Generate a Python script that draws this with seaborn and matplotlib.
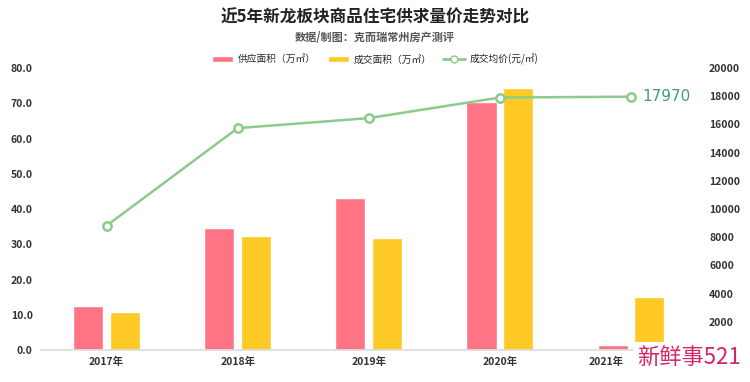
import pandas as pd
import seaborn as sns
import matplotlib.pyplot as plt
import matplotlib.transforms as mtransforms
from matplotlib.patches import Patch
from matplotlib.lines import Line2D

years = ['2017年', '2018年', '2019年', '2020年', '2021年']
supply = [12.5, 34.7, 43.2, 70.5, 1.4]
deal = [10.8, 32.3, 31.8, 74.3, 14.9]
price = [8820, 15740, 16450, 17910, 17970]
series_names = ['供应面积（万㎡）', '成交面积（万㎡）', '成交均价(元/㎡)']

RED = '#FF7484'
YELLOW = '#FFC926'
GREEN = '#8CCB8C'
LABEL_GREEN = '#3F9E70'

sns.set_theme(style='white')
plt.rcParams['font.family'] = ['Noto Sans CJK SC', 'DejaVu Sans']

df = pd.DataFrame({'year': years * 2,
                   'area': supply + deal,
                   'type': [series_names[0]] * len(years) + [series_names[1]] * len(years)})

fig = plt.figure(figsize=(7.5, 3.82), dpi=100)
ax = fig.add_axes([0.0547, 0.0838, 0.874, 0.738])
sns.barplot(data=df, x='year', y='area', hue='type', palette=[RED, YELLOW],
            width=0.56, gap=0.18, saturation=1, legend=False, ax=ax)

ax2 = ax.twinx()
sns.pointplot(x=years, y=price, ax=ax2, color=GREEN, markers='o',
              markersize=6, markerfacecolor='white', markeredgecolor=GREEN,
              markeredgewidth=1.8, linewidth=1.8)
ax2.annotate(f'{price[-1]}', (len(years) - 1, price[-1]), xytext=(8, 0),
             textcoords='offset points', va='center', ha='left',
             fontsize=11, color=LABEL_GREEN, family=['DejaVu Sans'])

ax.set_ylim(0, 80)
ax.set_yticks(range(0, 81, 10))
ax.set_yticklabels([f'{v:.1f}' for v in range(0, 81, 10)])
ax2.set_ylim(0, 20000)
ax2.set_yticks(range(2000, 20001, 2000))
ax.set_xlim(-0.5, len(years) - 0.5)
ax.set_xlabel('')
ax.set_ylabel('')
ax2.set_ylabel('')

for a in (ax, ax2):
    for s in a.spines.values():
        s.set_visible(False)
    a.tick_params(length=0, labelsize=7.5, labelcolor='#333333')
ax.spines['bottom'].set_visible(True)
ax.spines['bottom'].set_color('#dddddd')
ax.tick_params(axis='y', pad=6)
ax.tick_params(axis='x', pad=5)
ax2.tick_params(axis='y', pad=9)
for lbl in ax.get_xticklabels() + ax.get_yticklabels() + ax2.get_yticklabels():
    lbl.set_fontweight('bold')

# last year label sits left of its bars, clear of the corner stamp
last = ax.get_xticklabels()[-1]
last.set_transform(last.get_transform() +
                   mtransforms.ScaledTranslation(-0.25, 0, fig.dpi_scale_trans))

fig.text(0.5, 0.955, '近5年新龙板块商品住宅供求量价走势对比', ha='center', va='center',
         fontsize=12, fontweight='bold', color='#222222')
fig.text(0.5, 0.903, '数据/制图：克而瑞常州房产测评', ha='center', va='center',
         fontsize=8, fontweight='bold', color='#555555')

handles = [Patch(facecolor=RED), Patch(facecolor=YELLOW),
           Line2D([0], [0], color=GREEN, lw=2, marker='o', markersize=5,
                  markerfacecolor='white', markeredgecolor=GREEN)]
fig.legend(handles, series_names, loc='center', bbox_to_anchor=(0.5, 0.845),
           ncol=3, frameon=False, fontsize=7, handlelength=2.2,
           handleheight=0.6, columnspacing=1.2, handletextpad=0.5)

fig.text(0.988, 0.063, '新鲜事521', ha='right', va='center', fontsize=16,
         color='#D62466', bbox=dict(facecolor='white', edgecolor='none', pad=3))

fig.savefig('out.png', dpi=100)
